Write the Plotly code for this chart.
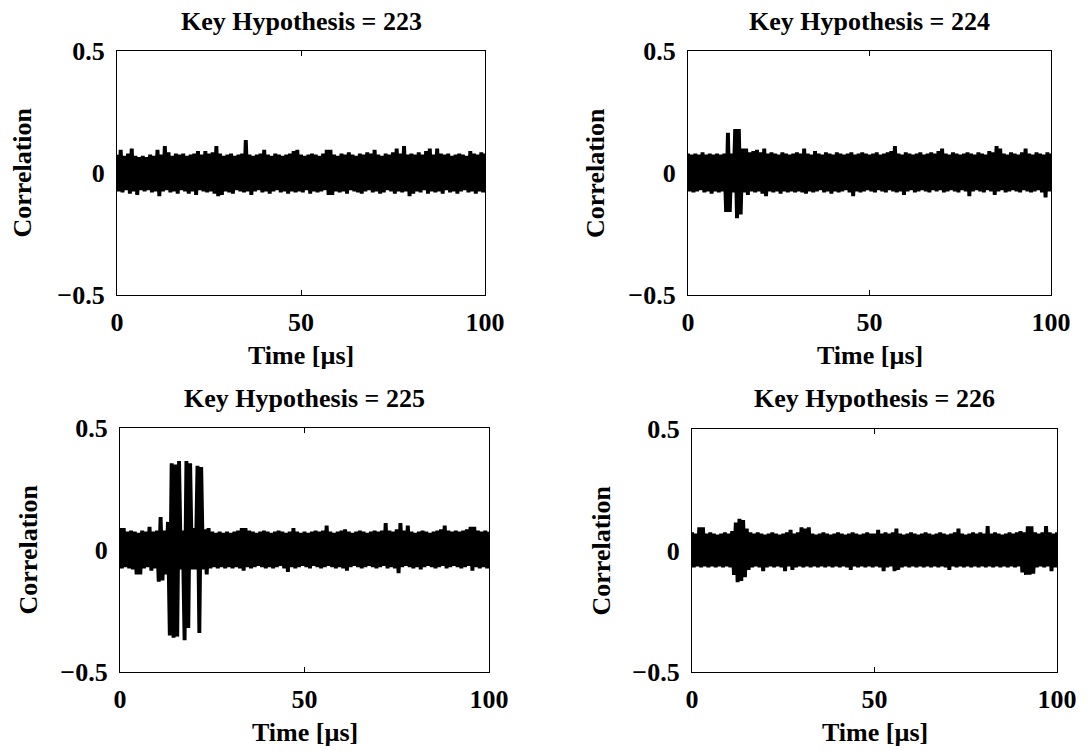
import plotly.graph_objects as go

# ---------------- data ----------------
# Correlation trace for each key hypothesis, described by its local maxima
# (at every whole microsecond, 0..100) and local minima (at every half
# microsecond, 0.5..99.5).
hypotheses = [223, 224, 225, 226]
x_ticks = [0, 50, 100]
y_ticks = [-0.5, 0, 0.5]

upper_223 = [0.075, 0.095, 0.07, 0.08, 0.10, 0.07, 0.065, 0.07, 0.065, 0.075,
             0.07, 0.095, 0.075, 0.11, 0.085, 0.07, 0.08, 0.075, 0.08, 0.07,
             0.075, 0.08, 0.09, 0.075, 0.09, 0.08, 0.085, 0.11, 0.08, 0.07,
             0.075, 0.08, 0.07, 0.075, 0.08, 0.135, 0.075, 0.07, 0.075, 0.08,
             0.095, 0.075, 0.07, 0.08, 0.075, 0.07, 0.075, 0.08, 0.09, 0.095,
             0.075, 0.07, 0.075, 0.08, 0.075, 0.07, 0.08, 0.095, 0.095, 0.075,
             0.07, 0.08, 0.075, 0.085, 0.075, 0.07, 0.08, 0.075, 0.085, 0.08,
             0.095, 0.075, 0.07, 0.08, 0.075, 0.085, 0.10, 0.08, 0.11, 0.075,
             0.08, 0.075, 0.085, 0.075, 0.09, 0.10, 0.075, 0.10, 0.08, 0.075,
             0.08, 0.07, 0.075, 0.08, 0.075, 0.07, 0.09, 0.08, 0.075, 0.085,
             0.08]
lower_223 = [-0.075, -0.08, -0.07, -0.085, -0.075, -0.09, -0.07, -0.075, -0.07, -0.08,
             -0.075, -0.095, -0.075, -0.07, -0.08, -0.075, -0.085, -0.07, -0.075, -0.085,
             -0.075, -0.09, -0.07, -0.075, -0.08, -0.075, -0.085, -0.095, -0.09, -0.075,
             -0.08, -0.085, -0.07, -0.075, -0.08, -0.075, -0.09, -0.075, -0.07, -0.08,
             -0.075, -0.085, -0.075, -0.07, -0.08, -0.075, -0.085, -0.075, -0.08, -0.075,
             -0.08, -0.07, -0.085, -0.075, -0.08, -0.075, -0.07, -0.09, -0.09, -0.075,
             -0.08, -0.075, -0.085, -0.07, -0.075, -0.08, -0.085, -0.075, -0.07, -0.08,
             -0.075, -0.085, -0.08, -0.07, -0.075, -0.085, -0.075, -0.08, -0.075, -0.095,
             -0.085, -0.075, -0.08, -0.07, -0.085, -0.075, -0.08, -0.075, -0.085, -0.07,
             -0.08, -0.075, -0.085, -0.075, -0.07, -0.08, -0.075, -0.085, -0.075, -0.08]

upper_224 = [0.08, 0.075, 0.08, 0.075, 0.085, 0.075, 0.08, 0.075, 0.08, 0.075,
             0.08, 0.165, 0.08, 0.18, 0.18, 0.10, 0.10, 0.085, 0.09, 0.095,
             0.085, 0.10, 0.08, 0.085, 0.08, 0.075, 0.085, 0.08, 0.075, 0.08,
             0.085, 0.08, 0.10, 0.08, 0.075, 0.09, 0.08, 0.075, 0.085, 0.08,
             0.075, 0.085, 0.08, 0.075, 0.08, 0.085, 0.075, 0.08, 0.085, 0.08,
             0.075, 0.08, 0.085, 0.075, 0.08, 0.085, 0.09, 0.11, 0.08, 0.075,
             0.085, 0.08, 0.075, 0.08, 0.085, 0.075, 0.08, 0.085, 0.08, 0.09,
             0.10, 0.08, 0.075, 0.085, 0.08, 0.075, 0.08, 0.085, 0.08, 0.075,
             0.085, 0.08, 0.075, 0.09, 0.085, 0.11, 0.10, 0.08, 0.075, 0.085,
             0.08, 0.075, 0.085, 0.10, 0.08, 0.075, 0.085, 0.08, 0.075, 0.085,
             0.08]
lower_224 = [-0.075, -0.08, -0.075, -0.07, -0.08, -0.075, -0.085, -0.075, -0.08, -0.075,
             -0.16, -0.16, -0.08, -0.185, -0.17, -0.08, -0.09, -0.075, -0.08, -0.075,
             -0.085, -0.095, -0.075, -0.08, -0.075, -0.085, -0.075, -0.08, -0.075, -0.08,
             -0.075, -0.08, -0.085, -0.075, -0.08, -0.075, -0.07, -0.08, -0.075, -0.085,
             -0.075, -0.08, -0.075, -0.07, -0.08, -0.095, -0.075, -0.08, -0.075, -0.07,
             -0.075, -0.08, -0.07, -0.075, -0.08, -0.07, -0.075, -0.08, -0.075, -0.09,
             -0.075, -0.07, -0.08, -0.075, -0.07, -0.075, -0.08, -0.07, -0.075, -0.07,
             -0.08, -0.075, -0.07, -0.075, -0.08, -0.07, -0.075, -0.095, -0.075, -0.07,
             -0.075, -0.08, -0.07, -0.075, -0.09, -0.075, -0.07, -0.08, -0.075, -0.07,
             -0.075, -0.08, -0.07, -0.075, -0.08, -0.075, -0.07, -0.08, -0.10, -0.075]

upper_225 = [0.09, 0.09, 0.075, 0.08, 0.075, 0.07, 0.08, 0.075, 0.095, 0.075,
             0.08, 0.135, 0.08, 0.115, 0.355, 0.35, 0.365, 0.08, 0.365, 0.355,
             0.09, 0.345, 0.34, 0.085, 0.09, 0.075, 0.07, 0.075, 0.07, 0.075,
             0.07, 0.075, 0.08, 0.09, 0.09, 0.08, 0.075, 0.07, 0.075, 0.08,
             0.075, 0.07, 0.075, 0.08, 0.075, 0.07, 0.075, 0.09, 0.075, 0.07,
             0.075, 0.07, 0.075, 0.08, 0.075, 0.08, 0.10, 0.075, 0.07, 0.075,
             0.08, 0.085, 0.075, 0.07, 0.075, 0.08, 0.075, 0.07, 0.075, 0.08,
             0.075, 0.08, 0.11, 0.08, 0.075, 0.085, 0.11, 0.08, 0.10, 0.075,
             0.07, 0.075, 0.08, 0.075, 0.07, 0.075, 0.08, 0.085, 0.10, 0.08,
             0.075, 0.08, 0.075, 0.08, 0.085, 0.095, 0.095, 0.08, 0.075, 0.08,
             0.075]
lower_225 = [-0.075, -0.07, -0.075, -0.08, -0.10, -0.10, -0.075, -0.07, -0.085, -0.075,
             -0.13, -0.125, -0.10, -0.35, -0.36, -0.355, -0.08, -0.37, -0.32, -0.08,
             -0.08, -0.34, -0.08, -0.10, -0.075, -0.07, -0.075, -0.07, -0.075, -0.07,
             -0.075, -0.07, -0.075, -0.085, -0.07, -0.075, -0.07, -0.065, -0.07, -0.075,
             -0.07, -0.075, -0.07, -0.065, -0.075, -0.09, -0.07, -0.075, -0.07, -0.065,
             -0.07, -0.075, -0.065, -0.07, -0.075, -0.07, -0.065, -0.07, -0.075, -0.07,
             -0.075, -0.085, -0.07, -0.065, -0.07, -0.075, -0.07, -0.065, -0.07, -0.075,
             -0.07, -0.065, -0.075, -0.07, -0.075, -0.095, -0.07, -0.065, -0.07, -0.075,
             -0.07, -0.08, -0.07, -0.065, -0.07, -0.075, -0.07, -0.065, -0.075, -0.07,
             -0.065, -0.07, -0.075, -0.07, -0.065, -0.085, -0.07, -0.075, -0.07, -0.075]

upper_226 = [0.075, 0.07, 0.095, 0.095, 0.07, 0.075, 0.07, 0.065, 0.07, 0.075,
             0.07, 0.08, 0.115, 0.13, 0.125, 0.09, 0.075, 0.07, 0.075, 0.07,
             0.065, 0.07, 0.075, 0.07, 0.065, 0.07, 0.075, 0.085, 0.07, 0.075,
             0.095, 0.09, 0.095, 0.07, 0.065, 0.07, 0.075, 0.07, 0.065, 0.07,
             0.075, 0.07, 0.065, 0.07, 0.075, 0.07, 0.065, 0.07, 0.075, 0.07,
             0.07, 0.085, 0.07, 0.075, 0.07, 0.075, 0.09, 0.07, 0.065, 0.07,
             0.075, 0.07, 0.065, 0.07, 0.075, 0.07, 0.065, 0.07, 0.075, 0.07,
             0.065, 0.07, 0.075, 0.09, 0.07, 0.065, 0.07, 0.075, 0.07, 0.075,
             0.07, 0.10, 0.07, 0.075, 0.07, 0.065, 0.07, 0.075, 0.07, 0.075,
             0.08, 0.075, 0.10, 0.10, 0.075, 0.07, 0.075, 0.10, 0.075, 0.07,
             0.075]
lower_226 = [-0.07, -0.065, -0.07, -0.065, -0.07, -0.065, -0.07, -0.065, -0.07, -0.065,
             -0.07, -0.10, -0.13, -0.125, -0.11, -0.08, -0.07, -0.065, -0.07, -0.085,
             -0.07, -0.065, -0.07, -0.065, -0.07, -0.085, -0.065, -0.08, -0.07, -0.065,
             -0.07, -0.065, -0.07, -0.065, -0.07, -0.065, -0.07, -0.065, -0.07, -0.065,
             -0.07, -0.065, -0.07, -0.08, -0.065, -0.07, -0.065, -0.07, -0.065, -0.07,
             -0.065, -0.07, -0.085, -0.07, -0.065, -0.085, -0.08, -0.07, -0.065, -0.07,
             -0.065, -0.07, -0.065, -0.07, -0.065, -0.07, -0.065, -0.07, -0.065, -0.07,
             -0.08, -0.065, -0.07, -0.065, -0.07, -0.065, -0.07, -0.065, -0.07, -0.065,
             -0.07, -0.065, -0.07, -0.065, -0.07, -0.065, -0.07, -0.065, -0.07, -0.065,
             -0.09, -0.10, -0.10, -0.095, -0.07, -0.065, -0.07, -0.065, -0.085, -0.07]

series = {223: (upper_223, lower_223), 224: (upper_224, lower_224),
          225: (upper_225, lower_225), 226: (upper_226, lower_226)}

# ---------------- layout geometry (pixels) ----------------
W, H = 1089, 751
# (left, right, top, bottom) of each plot box
boxes = [(117, 485, 51, 295), (688, 1051, 51, 295),
         (120, 489, 428, 672), (692, 1057, 429, 672)]
ylabel_x = [22.5, 596, 27.5, 601]

FONT = "Liberation Serif"
FS = 26
TXT = dict(family=FONT, size=FS, color="black", weight="bold")


def px_x(v):
    return v / W


def px_y(v):
    return 1 - v / H


fig = go.Figure()
annotations = []
for k, hyp in enumerate(hypotheses):
    up, lo = series[hyp]
    tx, ty = [], []
    for i in range(len(lo)):
        tx += [i, i + 0.5]
        ty += [up[i], lo[i]]
    tx.append(len(up) - 1)
    ty.append(up[-1])
    s = "" if k == 0 else str(k + 1)
    fig.add_trace(go.Scatter(x=tx, y=ty, mode="lines",
                             line=dict(color="black", width=3.9),
                             xaxis="x" + s, yaxis="y" + s,
                             showlegend=False, hoverinfo="skip"))
    l, r, t, b = boxes[k]
    common = dict(showline=True, linecolor="black", linewidth=1.2,
                  mirror="ticks", ticks="inside", ticklen=5,
                  tickcolor="black", tickwidth=1, showgrid=False,
                  zeroline=False, automargin=False, tickfont=TXT)
    fig.update_layout(**{
        "xaxis" + s: dict(domain=[px_x(l), px_x(r)], range=[0, 100],
                          tickvals=x_ticks, anchor="y" + s,
                          ticklabelstandoff=4, **common),
        "yaxis" + s: dict(domain=[px_y(b), px_y(t)], range=[-0.5, 0.5],
                          tickvals=y_ticks, anchor="x" + s,
                          ticklabelstandoff=6, **common),
    })
    cx = (l + r) / 2
    annotations.append(dict(text=f"Key Hypothesis = {hyp}", x=px_x(cx),
                            y=px_y(t - 30), xref="paper", yref="paper",
                            xanchor="center", yanchor="middle",
                            showarrow=False))
    annotations.append(dict(text="Time [µs]", x=px_x(cx), y=px_y(b + 60),
                            xref="paper", yref="paper", xanchor="center",
                            yanchor="middle", showarrow=False))
    annotations.append(dict(text="Correlation", x=px_x(ylabel_x[k]),
                            y=px_y((t + b) / 2), xref="paper", yref="paper",
                            xanchor="center", yanchor="middle",
                            textangle=-90, showarrow=False))

for a in annotations:
    a["font"] = TXT

fig.update_layout(template="none", width=W, height=H,
                  margin=dict(l=0, r=0, t=0, b=0, pad=0),
                  paper_bgcolor="white", plot_bgcolor="white",
                  annotations=annotations, font=TXT)

fig.write_html("out.html")
